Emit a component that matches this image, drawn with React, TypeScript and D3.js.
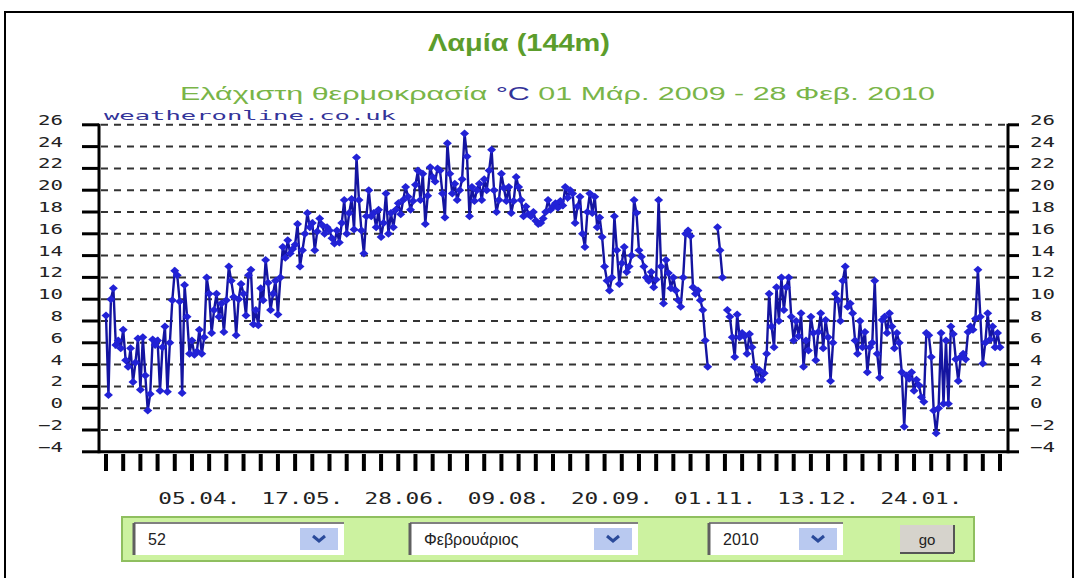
import React from "react";
import * as d3 from "d3";

// Daily minimum temperature (°C), Lamia, 01 Mar 2009 – 28 Feb 2010
const march = [8.5, 1.2, 10.0, 11.0, 5.8, 6.2, 5.5, 7.2, 4.4, 3.8, 5.5, 2.4, 4.2, 6.4, 1.7, 6.5, 3.0, -0.2, 1.3, 6.3, 5.8, 6.2, 1.6, 5.6, 7.5, 1.5, 6.0, 9.9, 12.6, 12.2, 9.8];
const april = [1.4, 11.3, 8.4, 5.0, 6.2, 4.9, 5.2, 7.2, 5.0, 6.5, 12.0, 10.5, 6.9, 9.0, 10.5, 8.4, 9.6, 7.0, 9.9, 13.0, 11.7, 10.2, 6.7, 10.0, 11.4, 10.5, 8.5, 12.2, 12.7, 7.7];
const may = [9.0, 7.6, 11.0, 9.9, 13.6, 11.5, 9.0, 10.5, 11.7, 8.6, 12.0, 14.8, 13.8, 15.4, 14.2, 14.6, 15.0, 16.9, 13.0, 14.5, 16.0, 17.9, 16.6, 17.0, 14.5, 16.2, 17.4, 16.8, 16.0, 16.6, 16.3];
const june = [15.6, 15.1, 16.3, 15.2, 17.0, 19.1, 16.0, 17.9, 19.2, 16.4, 23.0, 19.1, 16.3, 14.2, 17.6, 20.0, 17.6, 17.9, 16.6, 18.2, 15.7, 17.0, 19.7, 16.0, 17.9, 16.6, 18.2, 18.8, 17.8, 19.1];
const july = [20.3, 19.4, 18.2, 19.0, 20.5, 21.8, 19.1, 21.5, 16.9, 19.5, 22.1, 21.2, 20.8, 22.0, 21.8, 19.7, 17.5, 24.3, 21.5, 19.7, 20.6, 19.1, 20.0, 21.0, 25.2, 23.1, 17.6, 20.3, 19.0, 20.0, 20.6];
const august = [19.1, 21.0, 20.0, 21.8, 23.7, 20.0, 18.0, 19.1, 21.5, 20.2, 19.0, 20.3, 17.9, 19.0, 21.2, 20.3, 19.1, 17.6, 18.5, 17.8, 17.6, 18.0, 17.2, 16.9, 17.0, 17.4, 18.0, 19.1, 18.2, 18.5, 18.8];
const september = [18.4, 19.0, 18.6, 20.3, 19.3, 20.0, 19.7, 17.0, 18.5, 19.4, 16.0, 14.8, 18.0, 19.7, 17.9, 19.4, 16.6, 17.5, 15.7, 13.0, 11.7, 10.8, 12.0, 17.6, 14.5, 11.4, 13.3, 14.8, 12.5, 13.0];
const october = [14.0, 19.1, 17.9, 14.5, 13.9, 13.0, 12.0, 11.7, 12.5, 11.1, 11.8, 19.1, 13.0, 9.6, 13.6, 12.4, 11.0, 12.0, 10.8, 9.9, 9.3, 12.0, 16.0, 16.3, 15.8, 11.1, 10.5, 10.8, 9.9, 9.0, 6.2];
const november: (number | null)[] = [3.8, null, null, null, 16.6, 14.5, 12.0, null, 9.0, 8.4, 6.5, 4.7, 8.6, 6.5, 6.9, 6.6, 5.0, 6.8, 5.6, 3.8, 2.6, 3.5, 2.6, 3.2, 5.0, 10.5, 7.5, 5.6, 11.1, 8.0];
const december = [12.0, 9.0, 11.1, 12.0, 8.4, 6.2, 8.0, 6.6, 8.7, 3.8, 6.2, 5.3, 8.4, 6.9, 4.4, 7.0, 8.7, 5.5, 8.1, 6.5, 2.5, 6.0, 10.5, 9.9, 8.0, 11.7, 13.0, 9.3, 9.6, 8.7, 6.2];
const january = [5.0, 8.0, 5.6, 7.0, 3.3, 5.6, 6.0, 11.7, 5.0, 2.8, 8.1, 8.4, 6.9, 8.7, 7.5, 5.5, 6.9, 6.0, 3.3, -1.7, 3.0, 2.7, 3.3, 1.6, 2.6, 2.1, 1.0, 0.6, 6.9, 6.7, 4.7];
const february = [-0.2, -2.3, 0.0, 6.9, 0.4, 6.2, 0.4, 7.5, 6.8, 4.5, 2.5, 4.7, 5.0, 4.5, 7.0, 7.5, 7.2, 8.2, 12.7, 8.4, 4.1, 6.0, 8.7, 6.3, 7.5, 5.6, 6.9, 5.6];

const minTemp: (number | null)[] = [
  ...march, ...april, ...may, ...june, ...july, ...august,
  ...september, ...october, ...november, ...december, ...january, ...february,
];

const yTicks = d3.range(-4, 27, 2);
const gridValues = d3.range(-2, 27, 2);
const weekTickDays = d3.range(0, 365, 7);
const xLabels = ["05.04.", "17.05.", "28.06.", "09.08.", "20.09.", "01.11.", "13.12.", "24.01."];
const xLabelDays = [35, 77, 119, 161, 203, 245, 287, 329];

const titleText = "Λαμία (144m)";
const subtitleA = "Ελάχιστη θερμοκρασία  ";
const subtitleUnit = "°C";
const subtitleB = " 01 Μάρ. 2009 - 28 Φεβ. 2010";
const watermark = "weatheronline.co.uk";
const selectValues = ["52", "Φεβρουάριος", "2010"];
const goLabel = "go";

const W = 1077;
const H = 578;

const x = d3.scaleLinear().domain([0, 364]).range([106, 1000]);
const y = d3.scaleLinear().domain([-4, 26]).range([451.8, 124.8]);

const mono = "'DejaVu Sans Mono', monospace";
const sans = "'Liberation Sans', Arial, sans-serif";

function Select({ x0, w, label }: { x0: number; w: number; label: string }) {
  const top = 523;
  const h = 32;
  return (
    <g>
      <rect x={x0} y={top} width={w} height={h} fill="#ffffff" />
      <line x1={x0} y1={top} x2={x0 + w} y2={top} stroke="#808080" strokeWidth={2} />
      <line x1={x0} y1={top} x2={x0} y2={top + h} stroke="#606060" strokeWidth={3} />
      <text x={x0 + 14} y={top + 22} fontFamily={sans} fontSize={16} fill="#222">
        {label}
      </text>
      <rect x={x0 + w - 44} y={top + 5} width={38} height={22} fill="#b9c9f0" />
      <path
        d={`M${x0 + w - 31},${top + 13} l6,5 l6,-5`}
        fill="none"
        stroke="#2a4a9a"
        strokeWidth={3}
      />
    </g>
  );
}

export default function App() {
  const line = d3
    .line<number | null>()
    .defined((v) => v != null)
    .x((_, i) => x(i))
    .y((v) => y(v as number));

  const diamond = (cx: number, cy: number) =>
    `M${cx},${cy - 4} L${cx + 4.5},${cy} L${cx},${cy + 4} L${cx - 4.5},${cy} Z`;

  return (
    <svg
      width={W}
      height={H}
      style={{ position: "absolute", left: 0, top: 0, background: "#fff" }}
    >
      <rect x={0} y={0} width={W} height={H} fill="#ffffff" />
      {/* outer frame */}
      <rect x={5} y={12} width={1068} height={600} fill="none" stroke="#000" strokeWidth={2} />

      {/* title */}
      <text
        x={428}
        y={51}
        fontFamily={sans}
        fontWeight="bold"
        fontSize={23}
        fill="#5c9d2c"
        textLength={182}
        lengthAdjust="spacingAndGlyphs"
      >
        {titleText}
      </text>
      <text
        x={180}
        y={100}
        fontFamily={sans}
        fontSize={18}
        fill="#79b548"
        textLength={755}
        lengthAdjust="spacingAndGlyphs"
      >
        {subtitleA}
        <tspan fill="#333399">{subtitleUnit}</tspan>
        {subtitleB}
      </text>

      {/* grid */}
      {gridValues.map((v) => (
        <line
          key={v}
          x1={101}
          x2={1007}
          y1={y(v)}
          y2={y(v)}
          stroke="#333"
          strokeWidth={2}
          strokeDasharray="7 6"
        />
      ))}

      <text
        x={104}
        y={120}
        fontFamily={mono}
        fontSize={13}
        fill="#333399"
        textLength={292}
        lengthAdjust="spacingAndGlyphs"
      >
        {watermark}
      </text>

      {/* axes */}
      <line x1={99} x2={99} y1={y(26) - 1} y2={y(-4) + 1.5} stroke="#000" strokeWidth={3} />
      <line x1={1008} x2={1008} y1={y(26) - 1} y2={y(-4) + 1.5} stroke="#000" strokeWidth={3} />
      <line x1={99} x2={1008} y1={y(-4)} y2={y(-4)} stroke="#000" strokeWidth={3} />

      {yTicks.map((t) => (
        <g key={t}>
          <line x1={82} x2={99} y1={y(t)} y2={y(t)} stroke="#000" strokeWidth={3} />
          <line x1={1008} x2={1019} y1={y(t)} y2={y(t)} stroke="#000" strokeWidth={3} />
          <text
            transform={`translate(63,${y(t)}) scale(1.48,1)`}
            textAnchor="end"
            fontFamily={mono}
            fontSize={14}
            fill="#222"
          >
            {t < 0 ? "−" + Math.abs(t) : String(t)}
          </text>
          <text
            transform={`translate(1030,${y(t)}) scale(1.48,1)`}
            fontFamily={mono}
            fontSize={14}
            fill="#222"
          >
            {t < 0 ? "−" + Math.abs(t) : String(t)}
          </text>
        </g>
      ))}

      {weekTickDays.map((d) => (
        <line key={d} x1={x(d)} x2={x(d)} y1={454} y2={471} stroke="#000" strokeWidth={4} />
      ))}
      {xLabels.map((lab, i) => (
        <text
          key={lab}
          x={x(xLabelDays[i] + 3)}
          y={504}
          textAnchor="middle"
          fontFamily={mono}
          fontSize={15}
          fill="#222"
          textLength={82}
          lengthAdjust="spacingAndGlyphs"
        >
          {lab}
        </text>
      ))}

      {/* data */}
      <path d={line(minTemp) || ""} fill="none" stroke="#1414a0" strokeWidth={2.4} />
      {minTemp.map((v, i) =>
        v == null ? null : <path key={i} d={diamond(x(i), y(v))} fill="#2222d6" />
      )}

      {/* control bar */}
      <rect x={122} y={517} width={852} height={44} fill="#ccf2a0" stroke="#8fbf5f" strokeWidth={2} />
      <Select x0={134} w={210} label={selectValues[0]} />
      <Select x0={410} w={228} label={selectValues[1]} />
      <Select x0={709} w={134} label={selectValues[2]} />
      <rect x={900} y={525} width={54} height={28} fill="#d6d3cc" />
      <line x1={954} y1={525} x2={954} y2={553} stroke="#555" strokeWidth={2} />
      <line x1={900} y1={553} x2={954} y2={553} stroke="#555" strokeWidth={2} />
      <text x={927} y={545} textAnchor="middle" fontFamily={sans} fontSize={15} fill="#222">
        {goLabel}
      </text>
    </svg>
  );
}
